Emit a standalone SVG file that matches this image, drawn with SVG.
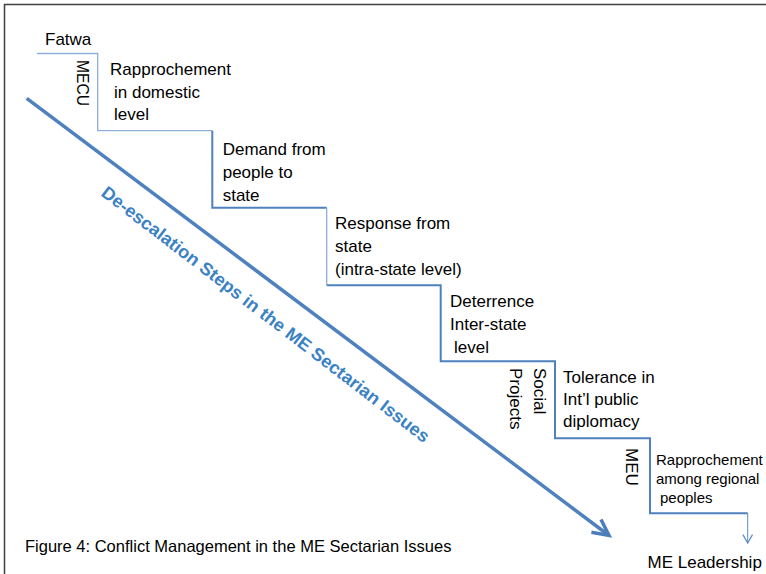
<svg xmlns="http://www.w3.org/2000/svg" width="766" height="574" viewBox="0 0 766 574">
<defs>
<style>
.t{font-family:"Liberation Sans",Arial,sans-serif;font-size:17px;fill:#000}
.s{font-size:15px}
.cap{font-size:16.5px}
.diag{font-family:"Liberation Sans",Arial,sans-serif;font-size:18px;font-weight:bold;fill:#3b82c4}
.step{fill:none;stroke:#4f81bd;stroke-width:2}
.light{fill:none;stroke:#8eaedb;stroke-width:1.3}
</style>
<marker id="bigArrow" markerUnits="userSpaceOnUse" markerWidth="24" markerHeight="24" refX="20" refY="10" orient="auto" viewBox="0 0 24 20">
<path d="M4,2 L20,10 L4,18" fill="none" stroke="#4a7ebb" stroke-width="3.5" stroke-linejoin="miter"/>
</marker>
<marker id="smallArrow" markerUnits="userSpaceOnUse" markerWidth="12" markerHeight="12" refX="8" refY="5" orient="auto" viewBox="0 0 10 10">
<path d="M1,1 L8,5 L1,9" fill="none" stroke="#5b8bc8" stroke-width="1"/>
</marker>
</defs>
<rect width="766" height="574" fill="#fff"/>
<path d="M4.5,574 V4.5 H766" fill="none" stroke="#404040" stroke-width="1.5"/>
<g id="connectors">
<path class="light" d="M37,53.5 H97.7 V130.7 H212"/>
<path class="step" d="M212.3,130.7 V207.7 H326.7"/>
<path class="light" d="M326.7,207.7 V285.3"/>
<path class="step" d="M326.7,285.3 H440.7 V361.3 H555 V438.3 H650 V513.3 H747.7"/>
<path d="M747.7,513.3 V543" fill="none" stroke="#5b8bc8" stroke-width="1" marker-end="url(#smallArrow)"/>
<path d="M26.7,98.3 L609,535.5" fill="none" stroke="#4f81bd" stroke-width="3.5" marker-end="url(#bigArrow)"/>
</g>
<g id="fatwa"><text class="t" x="45" y="45">Fatwa</text></g>
<g id="mecu"><text class="t" transform="translate(76.5,60) rotate(90)" x="0" y="0" textLength="46" lengthAdjust="spacingAndGlyphs">MECU</text></g>
<g id="rapprochement-domestic">
<text class="t" x="110" y="75">Rapprochement</text>
<text class="t" x="114" y="97.5">in domestic</text>
<text class="t" x="114" y="120">level</text>
</g>
<g id="demand">
<text class="t" x="222.7" y="155">Demand from</text>
<text class="t" x="222.7" y="178">people to</text>
<text class="t" x="222.7" y="201">state</text>
</g>
<g id="response">
<text class="t" x="335" y="229">Response from</text>
<text class="t" x="335" y="252">state</text>
<text class="t" x="335" y="275">(intra-state level)</text>
</g>
<g id="deterrence">
<text class="t" x="450" y="307">Deterrence</text>
<text class="t" x="450" y="330">Inter-state</text>
<text class="t" x="454" y="353">level</text>
</g>
<g id="social-projects">
<text class="t" transform="translate(534,368) rotate(90)" x="0" y="0">Social</text>
<text class="t" transform="translate(509.5,368) rotate(90)" x="0" y="0">Projects</text>
</g>
<g id="tolerance">
<text class="t" x="563" y="383">Tolerance in</text>
<text class="t" x="563" y="405">Int’l public</text>
<text class="t" x="563" y="427">diplomacy</text>
</g>
<g id="meu"><text class="t" transform="translate(626,448) rotate(90)" x="0" y="0">MEU</text></g>
<g id="rapprochement-regional">
<text class="t s" x="656" y="464.5">Rapprochement</text>
<text class="t s" x="656" y="483.5">among regional</text>
<text class="t s" x="660" y="502.5">peoples</text>
</g>
<g id="leadership"><text class="t" x="647.5" y="567.5">ME Leadership</text></g>
<g id="diagonal-label">
<text class="diag" transform="translate(100,195) rotate(37.5)" x="0" y="0" textLength="408" lengthAdjust="spacingAndGlyphs">De-escalation Steps in the ME Sectarian Issues</text>
</g>
<g id="caption"><text class="t cap" x="25" y="552">Figure 4: Conflict Management in the ME Sectarian Issues</text></g>
</svg>
